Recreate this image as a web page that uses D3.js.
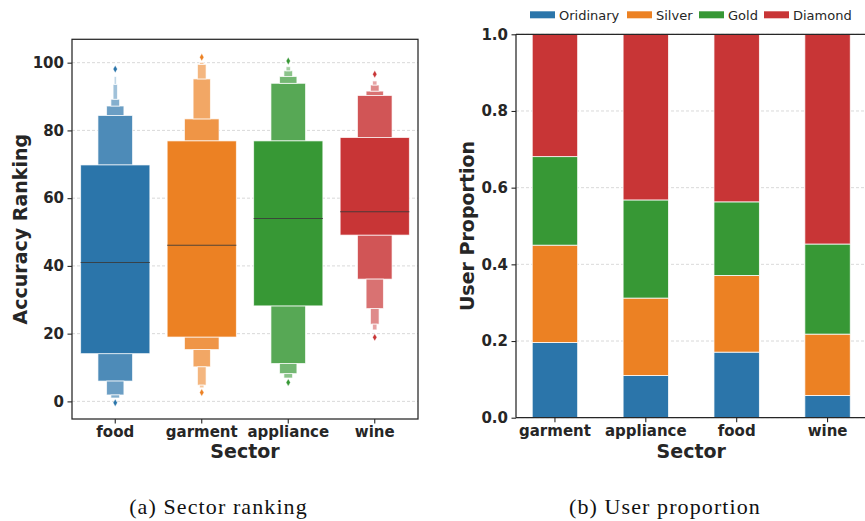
<!DOCTYPE html>
<html><head><meta charset="utf-8">
<script src="https://cdn.jsdelivr.net/npm/d3@7"></script>
<style>body{margin:0;background:#fff} svg{display:block}</style>
</head><body>
<svg id="c" width="865" height="521"></svg>
<script>
// ---------- (a) Sector ranking: letter-value (boxen) data ----------
const sectorsA = ["food", "garment", "appliance", "wine"];
const medians = [41.0, 46.1, 54.0, 56.0];
const upperLV = [
  [69.8, 84.4, 87.2, 89.2, 93.6, 95.9],
  [76.9, 83.4, 95.2, 99.5, 100.1],
  [76.9, 93.9, 95.9, 97.6, 98.8],
  [77.9, 90.3, 91.6, 93.4, 94.6]
];
const lowerLV = [
  [14.1, 6.0, 1.9, 1.0],
  [19.0, 15.3, 10.2, 4.8, 4.0],
  [28.2, 11.2, 8.2, 6.9],
  [49.1, 36.1, 27.4, 22.8, 21.1]
];
const outliersHigh = [98.1, 101.6, 100.5, 96.6];
const outliersLow = [-0.4, 2.6, 5.6, 18.9];
const yTicksA = [0, 20, 40, 60, 80, 100];

// ---------- (b) User proportion: stacked bars ----------
const sectorsB = ["garment", "appliance", "food", "wine"];
const tiers = ["Oridinary", "Silver", "Gold", "Diamond"];
const oridinary = [0.196, 0.110, 0.171, 0.058];
const silver    = [0.254, 0.202, 0.200, 0.160];
const gold      = [0.231, 0.256, 0.192, 0.235];
const diamond   = [0.319, 0.432, 0.437, 0.547];
const yTicksB = [0.0, 0.2, 0.4, 0.6, 0.8, 1.0];

const palette = ["#2b75aa", "#ec8123", "#379835", "#c83536"];
const txt = "#262626";
const svg = d3.select("#c");
const FONT = "'DejaVu Sans', sans-serif";

function styleAxis(g, size) {
  g.select(".domain").remove();
  g.selectAll(".tick line").attr("stroke", txt).attr("stroke-width", 1.1);
  g.selectAll(".tick text").attr("fill", txt).attr("font-family", FONT)
    .attr("font-weight", "bold").attr("font-size", size);
}

// ================= Panel A =================
const A = {l: 72, r: 418, t: 39.3, b: 419};
const xA = d3.scaleBand().domain(sectorsA).range([A.l, A.r]).padding(0);
const yA = d3.scaleLinear().domain([-5.2, 106.9]).range([A.b, A.t]);
const gA = svg.append("g");

// grid
gA.selectAll("line.grid").data(yTicksA).join("line")
  .attr("x1", A.l).attr("x2", A.r)
  .attr("y1", d => yA(d)).attr("y2", d => yA(d))
  .attr("stroke", "#cfcfcf").attr("stroke-width", 0.8).attr("stroke-dasharray", "3,2");

const lightT = [0, 0.16, 0.3, 0.42, 0.55, 0.68];
sectorsA.forEach((s, i) => {
  const base = palette[i];
  const cx = xA(s) + xA.bandwidth() / 2;
  const w0 = xA.bandwidth() * 0.8;
  const col = k => d3.interpolateRgb(base, "#ffffff")(lightT[Math.min(k, lightT.length - 1)]);
  const g = gA.append("g");
  upperLV[i].forEach((hi, k) => {
    if (k === 0) return;
    const lo = upperLV[i][k - 1];
    const w = w0 / Math.pow(2, k);
    g.append("rect").attr("x", cx - w / 2).attr("width", w)
      .attr("y", yA(hi)).attr("height", yA(lo) - yA(hi))
      .attr("fill", col(k)).attr("stroke", "#fff").attr("stroke-opacity", 0.75).attr("stroke-width", 0.9);
  });
  lowerLV[i].forEach((lo, k) => {
    if (k === 0) return;
    const hi = lowerLV[i][k - 1];
    const w = w0 / Math.pow(2, k);
    g.append("rect").attr("x", cx - w / 2).attr("width", w)
      .attr("y", yA(hi)).attr("height", yA(lo) - yA(hi))
      .attr("fill", col(k)).attr("stroke", "#fff").attr("stroke-opacity", 0.75).attr("stroke-width", 0.9);
  });
  g.append("rect").attr("x", cx - w0 / 2).attr("width", w0)
    .attr("y", yA(upperLV[i][0])).attr("height", yA(lowerLV[i][0]) - yA(upperLV[i][0]))
    .attr("fill", base).attr("stroke", "#fff").attr("stroke-opacity", 0.75).attr("stroke-width", 0.9);
  g.append("line").attr("x1", cx - w0 / 2).attr("x2", cx + w0 / 2)
    .attr("y1", yA(medians[i])).attr("y2", yA(medians[i]))
    .attr("stroke", "#3a3a3a").attr("stroke-opacity", 0.85).attr("stroke-width", 1.1);
  [outliersHigh[i], outliersLow[i]].forEach(v => {
    g.append("path").attr("d", d3.symbol(d3.symbolDiamond, 16)())
      .attr("transform", `translate(${cx},${yA(v)})`)
      .attr("fill", base).attr("stroke", "#fff").attr("stroke-width", 0.4);
  });
});

gA.append("rect").attr("x", A.l).attr("y", A.t).attr("width", A.r - A.l).attr("height", A.b - A.t)
  .attr("fill", "none").attr("stroke", txt).attr("stroke-width", 1.25);

const axYA = gA.append("g").attr("transform", `translate(${A.l},0)`)
  .call(d3.axisLeft(yA).tickValues(yTicksA).tickSize(4.5).tickPadding(3.5));
styleAxis(axYA, 15);
const axXA = gA.append("g").attr("transform", `translate(0,${A.b})`)
  .call(d3.axisBottom(xA).tickSize(4.5).tickPadding(3));
styleAxis(axXA, 15);

gA.append("text").attr("transform", `translate(21,${(A.t + A.b) / 2}) rotate(-90)`)
  .attr("text-anchor", "middle").attr("dy", "0.3em")
  .attr("font-family", FONT).attr("font-weight", "bold").attr("font-size", 19).attr("fill", txt)
  .text("Accuracy Ranking");
gA.append("text").attr("x", (A.l + A.r) / 2).attr("y", 458)
  .attr("text-anchor", "middle")
  .attr("font-family", FONT).attr("font-weight", "bold").attr("font-size", 19).attr("fill", txt)
  .text("Sector");

// ================= Panel B =================
const B = {l: 516, r: 866.5, t: 34.3, b: 417.7};
const xB = d3.scaleBand().domain(sectorsB).range([B.l, B.r]).paddingInner(0.5).paddingOuter(0.1786);
const yB = d3.scaleLinear().domain([0, 1]).range([B.b, B.t]);
const gB = svg.append("g");

gB.selectAll("line.grid").data(yTicksB).join("line")
  .attr("x1", B.l).attr("x2", B.r)
  .attr("y1", d => yB(d)).attr("y2", d => yB(d))
  .attr("stroke", "#cfcfcf").attr("stroke-width", 0.8).attr("stroke-dasharray", "3,2");

const series = [oridinary, silver, gold, diamond];
const rows = sectorsB.map((s, j) => {
  const r = {sector: s};
  tiers.forEach((t, k) => r[t] = series[k][j]);
  return r;
});
const stacked = d3.stack().keys(tiers)(rows);
stacked.forEach((layer, k) => {
  gB.append("g").selectAll("rect").data(layer).join("rect")
    .attr("x", d => xB(d.data.sector)).attr("width", xB.bandwidth())
    .attr("y", d => yB(d[1])).attr("height", d => yB(d[0]) - yB(d[1]))
    .attr("fill", palette[k]).attr("stroke", "#fff").attr("stroke-opacity", 0.85).attr("stroke-width", 0.9);
});

gB.append("line").attr("x1", B.l).attr("x2", B.r).attr("y1", B.t).attr("y2", B.t).attr("stroke", txt).attr("stroke-width", 1.25);
gB.append("line").attr("x1", B.l).attr("x2", B.r).attr("y1", B.b).attr("y2", B.b).attr("stroke", txt).attr("stroke-width", 1.25);
gB.append("line").attr("x1", B.l).attr("x2", B.l).attr("y1", B.t).attr("y2", B.b).attr("stroke", txt).attr("stroke-width", 1.25);
gB.append("line").attr("x1", B.r).attr("x2", B.r).attr("y1", B.t).attr("y2", B.b).attr("stroke", txt).attr("stroke-width", 1.25);

const axYB = gB.append("g").attr("transform", `translate(${B.l},0)`)
  .call(d3.axisLeft(yB).tickValues(yTicksB).tickFormat(d3.format(".1f")).tickSize(4.5).tickPadding(3.5));
styleAxis(axYB, 15);
const axXB = gB.append("g").attr("transform", `translate(0,${B.b})`)
  .call(d3.axisBottom(xB).tickSize(4.5).tickPadding(3));
styleAxis(axXB, 15);

gB.append("text").attr("transform", `translate(468,${(B.t + B.b) / 2}) rotate(-90)`)
  .attr("text-anchor", "middle").attr("dy", "0.3em")
  .attr("font-family", FONT).attr("font-weight", "bold").attr("font-size", 19).attr("fill", txt)
  .text("User Proportion");
gB.append("text").attr("x", (B.l + B.r) / 2).attr("y", 458)
  .attr("text-anchor", "middle")
  .attr("font-family", FONT).attr("font-weight", "bold").attr("font-size", 19).attr("fill", txt)
  .text("Sector");

const legX = [530, 627, 699, 764];
const leg = gB.append("g");
tiers.forEach((t, k) => {
  leg.append("rect").attr("x", legX[k]).attr("y", 11.3).attr("width", 25).attr("height", 7).attr("fill", palette[k]);
  leg.append("text").attr("x", legX[k] + 29).attr("y", 19.5)
    .attr("font-family", FONT).attr("font-size", 13).attr("fill", txt).text(t);
});

const CAP = "'Liberation Serif', serif";
svg.append("text").attr("x", 218.5).attr("y", 514).attr("text-anchor", "middle")
  .attr("font-family", CAP).attr("font-size", 22).attr("letter-spacing", 1.1).attr("fill", "#111")
  .text("(a) Sector ranking");
svg.append("text").attr("x", 665).attr("y", 514).attr("text-anchor", "middle")
  .attr("font-family", CAP).attr("font-size", 22).attr("letter-spacing", 1.1).attr("fill", "#111")
  .text("(b) User proportion");
</script>
</body></html>
